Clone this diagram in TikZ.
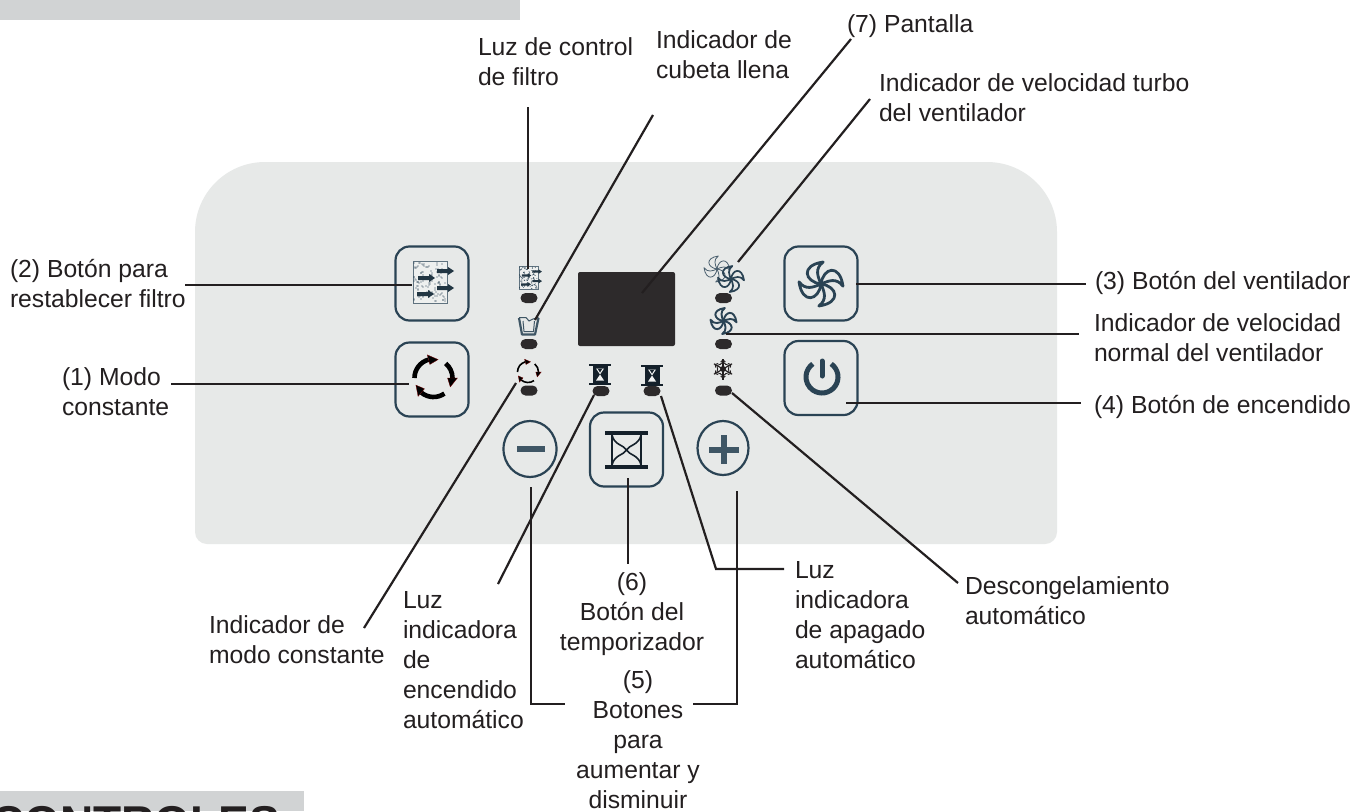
\documentclass[tikz,border=0pt]{standalone}
\usepackage{fontspec}
\setmainfont{Liberation Sans}
\usetikzlibrary{calc,shapes.geometric}
\definecolor{ink}{HTML}{231F20}
\definecolor{panelgrey}{HTML}{E7E9E8}
\definecolor{bargrey}{HTML}{D1D3D4}
\definecolor{btn}{HTML}{2A4354}
\definecolor{ledc}{HTML}{2D2A2B}
\definecolor{hgc}{HTML}{14202A}
\tikzset{
  lbl/.style={inner sep=0pt,outer sep=0pt,text=ink,align=left,anchor=base west,font=\fontsize{24.7}{29.8}\selectfont},
  lblc/.style={lbl,align=center,anchor=base},
  conn/.style={draw=ink,line width=2.2pt},
  btnbox/.style={draw=btn,line width=2.2pt,rounded corners=14pt,minimum width=73pt,minimum height=74pt,inner sep=0pt},
  led/.style={fill=ledc,rounded corners=5pt,minimum width=17pt,minimum height=10pt,inner sep=0pt},
  roundbtn/.style={ellipse,draw=btn,line width=2.2pt,inner sep=0pt},
}
% fan: centre x,y, radius, stroke width, colour
\newcommand{\fanicon}[5]{%
  \foreach \ang in {0,90,180,270}{%
    \begin{scope}[shift={(#1,#2)},rotate=\ang,scale=#3]
      \draw[draw=#5,line width=#4pt,line join=round]
        (0,0) .. controls (-0.75,-0.1) and (-0.95,-0.85) .. (0.1,-1)
        .. controls (-0.3,-0.7) and (-0.15,-0.35) .. (0,0);
    \end{scope}}%
}
% cycle icon: centre x,y, radius, stroke width
\newcommand{\cycleicon}[4]{%
  \begin{scope}[shift={(#1,#2)},scale=#3]
    \draw[draw=black,line width=#4pt] (-180:1) arc[start angle=-180,end angle=-105,radius=1];
    \draw[draw=black,line width=#4pt] (-50:1) arc[start angle=-50,end angle=0,radius=1];
    \draw[draw=black,line width=#4pt] (55:1) arc[start angle=55,end angle=130,radius=1];
    \foreach \st/\en in {-105/-76,0/28,130/158}{%
      \fill[black,draw=red!45!black,line width=0.3pt] (\st:1.26) -- (\st:0.74) -- (\en:1) -- cycle;}
  \end{scope}%
}
% filter icon: left x, top y, scale, dot radius
\newcommand{\filtericon}[4]{%
  \begin{scope}[shift={(#1,#2)},scale=#3]
    \draw[draw=btn!75!white,line width=1pt,fill=panelgrey!70!white] (0,0) rectangle (34,42);
    \foreach \i in {1,...,110}{%
      \pgfmathsetmacro{\dx}{mod(mod(\i*\i,97)*7+\i*13,32)+1}
      \pgfmathsetmacro{\dy}{mod(mod(\i*\i,89)*3+\i*29,40)+1}
      \fill[btn] (\dx,\dy) circle[radius=#4];}
    \foreach \ax/\ay in {5/17,4/33,24/10,24/27}{%
      \fill[btn!80!black] (\ax,\ay-2) -- ++(11,0) -- ++(0,-2) -- ++(6,4) -- ++(-6,4) -- ++(0,-2) -- ++(-11,0) -- cycle;}
  \end{scope}%
}
% small hourglass: left x, top y
\newcommand{\hgsmall}[2]{%
  \begin{scope}[shift={(#1,#2)}]
    \fill[hgc] (0,-1) rectangle (22,1);
    \fill[hgc] (0,18) rectangle (22,20);
    \fill[hgc] (3.5,0) rectangle (18.5,19);
    \fill[panelgrey!60!white] (7,3.5) -- (15,3.5) -- (11,9.5) -- cycle;
    \fill[panelgrey!60!white] (7,15.5) -- (15,15.5) -- (11,9.5) -- cycle;
    \fill[hgc] (9,4.2) -- (13,4.2) -- (11,7.5) -- cycle;
  \end{scope}%
}
% snowflake centre
\newcommand{\flake}[2]{%
  \begin{scope}[shift={(#1,#2)}]
    \foreach \ang in {30,90,150,210,270,330}{%
      \begin{scope}[rotate=\ang]
        \draw[ink,line width=1.1pt] (0,0) -- (10.5,0);
        \draw[ink,line width=0.9pt] (4.5,-3) -- (7,0) -- (4.5,3);
        \draw[ink,line width=0.9pt] (7,-2.4) -- (9,0) -- (7,2.4);
      \end{scope}}
    \fill[ink] (0,0) circle[radius=3];
  \end{scope}%
}
\begin{document}
\begin{tikzpicture}[x=1pt,y=-1pt]
\useasboundingbox (0,0) rectangle (1354,811);
\fill[white] (0,0) rectangle (1354,811);
% header bars
\fill[bargrey] (0,0) rectangle (520,20);
\begin{scope}
  \clip (0,0) rectangle (1354,811);
  \fill[bargrey] (0,791) rectangle (304,811);
  \node[inner sep=0pt,anchor=base west,text=ink,font=\fontsize{46}{46}\selectfont\bfseries] (ctl) at (-9,838) {CONTROLES};
\end{scope}
% panel
\fill[panelgrey] (195,232) arc[start angle=180,end angle=270,radius=70] -- (987,162) arc[start angle=-90,end angle=0,radius=70] -- (1057,532) arc[start angle=0,end angle=90,radius=12] -- (207,544) arc[start angle=90,end angle=180,radius=12] -- cycle;

% buttons
\node[btnbox] (bfilter) at (432,283.5) {};
\node[btnbox] (bmode) at (432,379.5) {};
\node[btnbox] (bfan) at (821,283.5) {};
\node[btnbox] (bpower) at (821,378) {};
\node[btnbox] (btimer) at (626.5,449.5) {};
\node[roundbtn,minimum width=53pt,minimum height=56pt] (bminus) at (530,449) {};
\node[roundbtn,minimum width=51pt,minimum height=54pt] (bplus) at (723,448) {};

% LEDs
\node[led] (l1) at (529,298) {};
\node[led] (l2) at (529,344) {};
\node[led] (l3) at (529,390.5) {};
\node[led] (l4) at (601,391) {};
\node[led] (l5) at (652,391) {};
\node[led] (l6) at (723.5,298) {};
\node[led] (l7) at (723.5,344) {};
\node[led] (l8) at (723.5,390.5) {};
% display
\node[fill=ledc,rounded corners=2pt,minimum width=97pt,minimum height=74pt,inner sep=0pt] (disp) at (626.5,309) {};

% icons
\filtericon{413}{261}{1}{0.6}
\filtericon{519}{266}{0.56}{0.85}
\cycleicon{433.5}{378}{19}{4.6}
\cycleicon{528}{372}{10.5}{1.6}
% cup
\draw[draw=btn!90!white,line width=2.2pt,line join=round] (519,318) -- (522,334.5) -- (535,334.5) -- (538.5,318);
\draw[draw=btn!90!white,line width=1pt] (519,317.5) -- (526,317.5) -- (529,321) -- (533,319) -- (538.5,317.5);
\draw[draw=btn!90!white,line width=1pt] (523,321) -- (524,331.5) -- (533.5,331.5) -- (534.5,321);
% fans
\fanicon{717}{269}{13}{0.8}{btn!85!white}
\fanicon{731}{279}{13}{1.7}{btn}
\fanicon{723.5}{321}{13}{1.9}{btn}
\fanicon{821}{284}{22}{2.8}{btn}
\flake{723}{369}
% small hourglasses
\hgsmall{589}{365}
\hgsmall{641}{366}
% minus, plus
\fill[btn!90!white] (517,446) rectangle (545,452);
\fill[btn!90!white] (709,446.5) rectangle (739,452.5);
\fill[btn!90!white] (721,435) rectangle (727,464);
% large hourglass
\fill[hgc] (605,431) rectangle (648,435);
\fill[hgc] (605,465) rectangle (648,469);
\draw[hgc,line width=1.9pt] (612,433) -- (612,467);
\draw[hgc,line width=1.9pt] (641,433) -- (641,467);
\draw[hgc,line width=1.6pt] (612,435) .. controls (614,445) and (624,445) .. (626.5,450) .. controls (629,445) and (639,445) .. (641,435);
\draw[hgc,line width=1.6pt] (612,465) .. controls (614,455) and (624,455) .. (626.5,450) .. controls (629,455) and (639,455) .. (641,465);
% power
\draw[draw=btn,line width=5pt] (-55:16) ++(822,377) arc[start angle=-55,end angle=235,radius=16];
\draw[draw=btn,line width=5pt,line cap=round] (822,361) -- (822,376);

% labels
\node[lbl] (t1) at (478,85.5) {Luz de control\\de filtro};
\node[lbl] (t2) at (656,78) {Indicador de\\cubeta llena};
\node[lbl] (t3) at (847,32) {(7) Pantalla};
\node[lbl] (t4) at (879,121) {Indicador de velocidad turbo\\del ventilador};
\node[lbl] (t5) at (10,307) {(2) Botón para\\restablecer filtro};
\node[lbl] (t6) at (62,415) {(1) Modo\\constante};
\node[lbl] (t7) at (1095,289) {(3) Botón del ventilador};
\node[lbl] (t8) at (1094,361) {Indicador de velocidad\\normal del ventilador};
\node[lbl] (t9) at (1094,413) {(4) Botón de encendido};
\node[lbl] (t10) at (209,663) {Indicador de\\modo constante};
\node[lbl] (t11) at (403,728) {Luz\\indicadora\\de\\encendido\\automático};
\node[lblc] (t12) at (632,650) {(6)\\Botón del\\temporizador};
\node[lblc] (t13) at (638,808) {(5)\\Botones\\para\\aumentar y\\disminuir};
\node[lbl] (t14) at (795,668) {Luz\\indicadora\\de apagado\\automático};
\node[lbl] (t15) at (965,624) {Descongelamiento\\automático};

% connector ends
\coordinate (a1) at (528,107); \coordinate (a2) at (528,269);
\coordinate (b1) at (653,115); \coordinate (b2) at (535,320);
\coordinate (c1) at (851,39); \coordinate (c2) at (642,293);
\coordinate (d1) at (870,99); \coordinate (d2) at (738,262);
\coordinate (e1) at (185,285); \coordinate (e2) at (412,285);
\coordinate (f1) at (171,384); \coordinate (f2) at (409,384);
\coordinate (g1) at (856,284); \coordinate (g2) at (1086,284);
\coordinate (h1) at (726,334); \coordinate (h2) at (1079,334);
\coordinate (i1) at (846,403); \coordinate (i2) at (1081,403);
\coordinate (j1) at (732,393); \coordinate (j2) at (958,583);
\coordinate (k1) at (516,383); \coordinate (k2) at (364,628);
\coordinate (m1) at (594,395); \coordinate (m2) at (498,584);
\coordinate (n1) at (628,478); \coordinate (n2) at (628,564);
\coordinate (o1) at (661,396); \coordinate (o2) at (716,569); \coordinate (o3) at (784,569);
\coordinate (p1) at (531,487); \coordinate (p2) at (531,704); \coordinate (p3) at (565,704);
\coordinate (q1) at (737,491); \coordinate (q2) at (737,704); \coordinate (q3) at (693,704);

\draw[conn] (a1) -- (a2);
\draw[conn] (b1) -- (b2);
\draw[conn] (c1) -- (c2);
\draw[conn] (d1) -- (d2);
\draw[conn] (e1) -- (e2);
\draw[conn] (f1) -- (f2);
\draw[conn] (g1) -- (g2);
\draw[conn] (h1) -- (h2);
\draw[conn] (i1) -- (i2);
\draw[conn] (j1) -- (j2);
\draw[conn] (k1) -- (k2);
\draw[conn] (m1) -- (m2);
\draw[conn] (n1) -- (n2);
\draw[conn] (o1) -- (o2) -- (o3);
\draw[conn] (p1) -- (p2) -- (p3);
\draw[conn] (q1) -- (q2) -- (q3);
\end{tikzpicture}
\end{document}
